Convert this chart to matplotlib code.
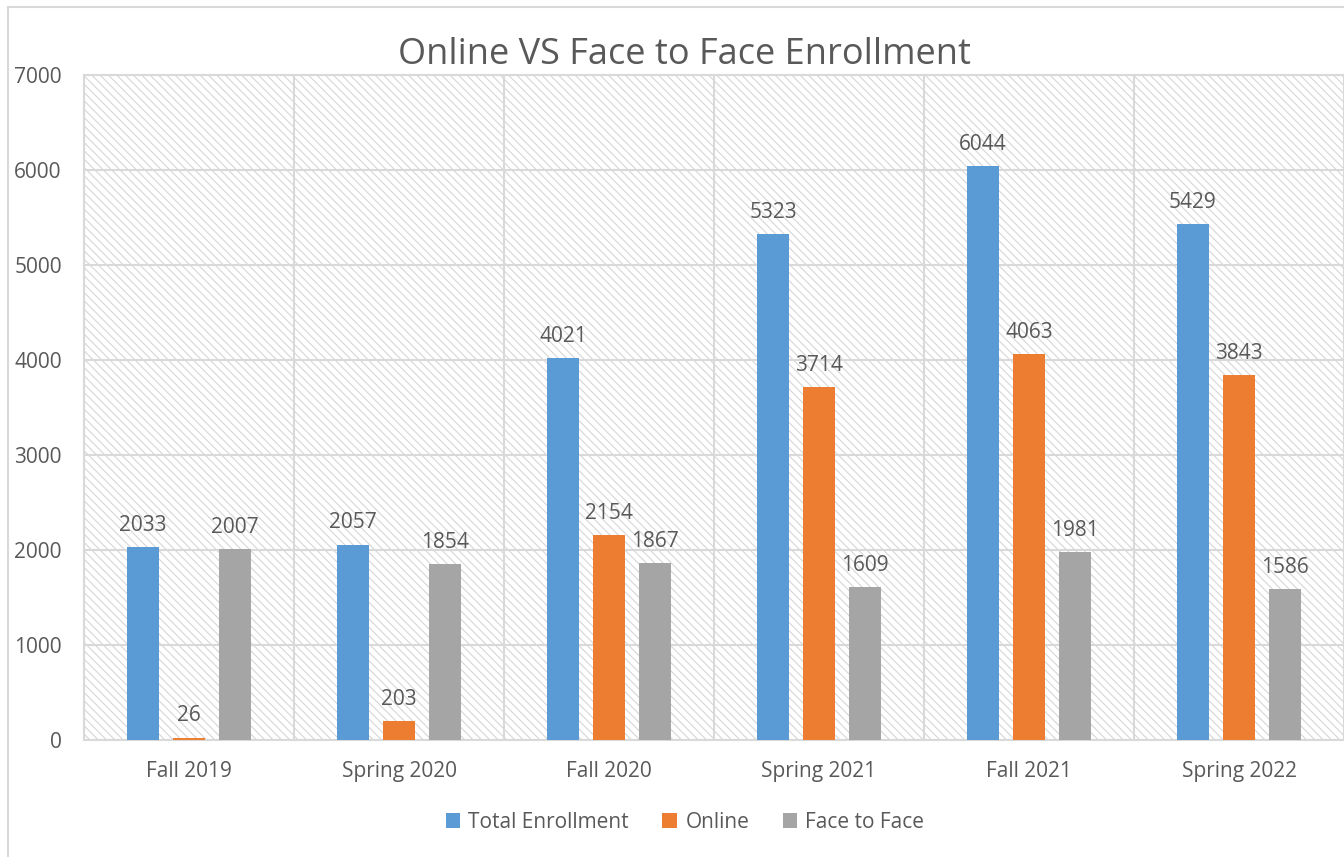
import matplotlib
matplotlib.use("Agg")
import matplotlib.pyplot as plt
import numpy as np
from matplotlib.patches import Rectangle

categories = ["Fall 2019", "Spring 2020", "Fall 2020", "Spring 2021", "Fall 2021", "Spring 2022"]
total = [2033, 2057, 4021, 5323, 6044, 5429]
online = [26, 203, 2154, 3714, 4063, 3843]
face = [2007, 1854, 1867, 1609, 1981, 1586]
series_names = ["Total Enrollment", "Online", "Face to Face"]
colors = ["#5B9BD5", "#ED7D31", "#A5A5A5"]
yticks = [0, 1000, 2000, 3000, 4000, 5000, 6000, 7000]

plt.rcParams['font.family'] = ['Open Sans', 'DejaVu Sans']
plt.rcParams['hatch.color'] = '#d6d6d6'
plt.rcParams['hatch.linewidth'] = 0.8
txt = '#595959'
grid_c = '#d9d9d9'

fig = plt.figure(figsize=(13.44, 8.57), dpi=100)
ax = fig.add_axes([84/1344, 1-740/857, 1-84/1344, (740-75)/857])

# outer chart border
fig.patches.append(Rectangle((8/1344, -0.05), 2, 1.05-7/857, transform=fig.transFigure,
                             fill=False, edgecolor=grid_c, linewidth=1.5, zorder=0))

ax.patch.set_facecolor('white')
ax.patch.set_hatch('\\\\\\\\')
ax.patch.set_edgecolor('#d6d6d6')

x = np.arange(len(categories))
w = 32/210
off = 46/210
for i, (vals, c, name) in enumerate(zip([total, online, face], colors, series_names)):
    pos = x + (i-1)*off
    ax.bar(pos, vals, width=w, color=c, label=name, zorder=3)
    for p, v in zip(pos, vals):
        ax.annotate(f"{v}", (p, v), xytext=(0, 8), textcoords='offset points',
                    ha='center', va='bottom', fontsize=15, color=txt, zorder=4)

ax.set_xlim(-0.5, len(categories)-0.5)
ax.set_ylim(0, 7000)
ax.set_yticks(yticks)
ax.set_xticks(x)
ax.set_xticklabels(categories)
ax.set_xticks(np.arange(len(categories)+1)-0.5, minor=True)
ax.tick_params(axis='both', which='both', length=0, labelsize=15, colors=txt)
ax.tick_params(axis='x', pad=15)
ax.tick_params(axis='y', pad=16)
ax.grid(axis='y', which='major', color=grid_c, linewidth=1.5, zorder=1)
ax.grid(axis='x', which='minor', color=grid_c, linewidth=1.5, zorder=1)
ax.grid(axis='x', which='major', visible=False)
ax.set_axisbelow(True)
for s in ax.spines.values():
    s.set_color(grid_c)
    s.set_linewidth(1.5)

fig.text(685/1344, 1-55/857, "Online VS Face to Face Enrollment", ha='center', va='center',
         fontsize=26, color=txt)

fig.legend(loc='center', bbox_to_anchor=(685/1344, 1-822/857), ncol=3, frameon=False,
           fontsize=15, labelcolor=txt, handlelength=0.7, handleheight=0.7,
           handletextpad=0.4, columnspacing=1.6)

fig.savefig("out.png", dpi=100)
